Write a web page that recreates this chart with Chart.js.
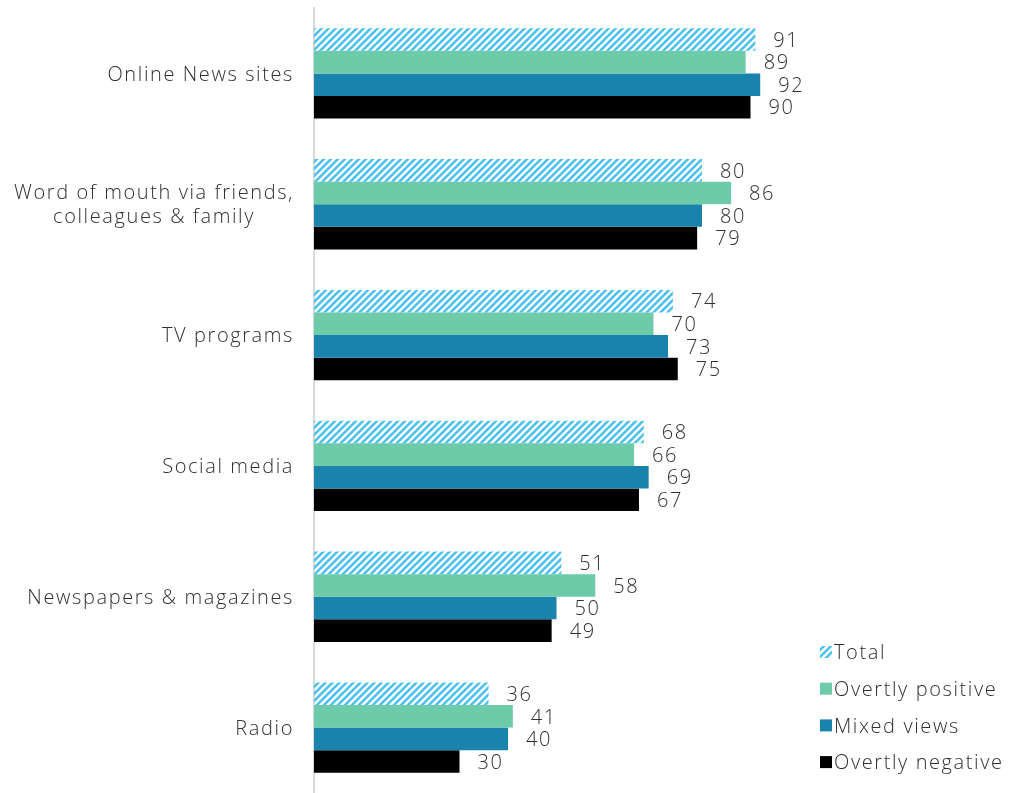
<!DOCTYPE html>
<html>
<head>
<meta charset="utf-8">
<script src="https://cdn.jsdelivr.net/npm/chart.js@4"></script>
<style>
  html, body { margin: 0; padding: 0; background: #fff; }
  #wrap { width: 1014px; height: 793px; }
</style>
</head>
<body>
<div id="wrap"><canvas id="sourcesChart" width="1014" height="793"></canvas></div>
<script>
// Sources used, % by attitude group
const categories = [
    ['Online News sites'],
    ['Word of mouth via friends,', 'colleagues & family'],
    ['TV programs'],
    ['Social media'],
    ['Newspapers & magazines'],
    ['Radio']
];
const seriesNames = ['Total', 'Overtly positive', 'Mixed views', 'Overtly negative'];
const totalValues    = [91, 80, 74, 68, 51, 36];
const positiveValues = [89, 86, 70, 66, 58, 41];
const mixedValues    = [92, 80, 73, 69, 50, 40];
const negativeValues = [90, 79, 75, 67, 49, 30];

const FONT = '300 20px "Open Sans", "DejaVu Sans", sans-serif';
const SPACING = '1.6px';
const TEXT_COLOR = '#303030';
const TEXT_NUDGE = 1.5;

// diagonal hatch for the Total bars
function makeHatch() {
    const c = document.createElement('canvas');
    c.width = 7; c.height = 7;
    const g = c.getContext('2d');
    g.strokeStyle = '#4dc1ec';
    g.lineWidth = 2.6;
    g.beginPath();
    g.moveTo(0, 7); g.lineTo(7, 0);
    g.moveTo(-2, 2); g.lineTo(2, -2);
    g.moveTo(5, 9); g.lineTo(9, 5);
    g.stroke();
    return g.createPattern(c, 'repeat');
}
const hatch = makeHatch();
const colors = [hatch, '#6dcba9', '#1983ab', '#000000'];

function setText(ctx, align) {
    ctx.font = FONT;
    ctx.letterSpacing = SPACING;
    ctx.fillStyle = TEXT_COLOR;
    ctx.textAlign = align;
    ctx.textBaseline = 'middle';
}

// value labels at bar ends
const valueLabels = {
    id: 'valueLabels',
    afterDatasetsDraw(chart) {
        const ctx = chart.ctx;
        ctx.save();
        setText(ctx, 'left');
        chart.data.datasets.forEach((ds, i) => {
            chart.getDatasetMeta(i).data.forEach((bar, j) => {
                ctx.fillText(ds.data[j], bar.x + 18, bar.y + TEXT_NUDGE);
            });
        });
        ctx.restore();
    }
};

// category labels: right aligned, wrapped lines centred within their block
const categoryLabels = {
    id: 'categoryLabels',
    afterDraw(chart) {
        const ctx = chart.ctx;
        const y = chart.scales.y;
        const right = chart.chartArea.left - 20;
        ctx.save();
        setText(ctx, 'center');
        categories.forEach((lines, i) => {
            const cy = y.getPixelForValue(i) + TEXT_NUDGE;
            const w = Math.max(...lines.map(l => ctx.measureText(l).width));
            const cx = right - w / 2;
            const lh = 24;
            lines.forEach((l, k) => {
                ctx.fillText(l, cx, cy + (k - (lines.length - 1) / 2) * lh);
            });
        });
        ctx.restore();
    }
};

// legend in the lower right corner
const cornerLegend = {
    id: 'cornerLegend',
    afterDraw(chart) {
        const ctx = chart.ctx;
        ctx.save();
        setText(ctx, 'left');
        chart.data.datasets.forEach((ds, i) => {
            const cy = 652 + i * 36.7;
            ctx.fillStyle = ds.backgroundColor;
            ctx.fillRect(820, cy - 6, 12, 12);
            ctx.fillStyle = TEXT_COLOR;
            ctx.fillText(ds.label, 834, cy + TEXT_NUDGE);
        });
        ctx.restore();
    }
};

const datasetValues = [totalValues, positiveValues, mixedValues, negativeValues];

new Chart(document.getElementById('sourcesChart'), {
    type: 'bar',
    data: {
        labels: categories.map(l => l.join(' ')),
        datasets: seriesNames.map((name, i) => ({
            label: name,
            data: datasetValues[i],
            backgroundColor: colors[i],
            borderWidth: 0,
            barPercentage: 1,
            categoryPercentage: 0.69
        }))
    },
    options: {
        indexAxis: 'y',
        responsive: false,
        animation: false,
        layout: { padding: { left: 306, right: 215, top: 8, bottom: 0 } },
        plugins: {
            legend: { display: false },
            tooltip: { enabled: false }
        },
        scales: {
            x: { min: 0, max: 100, display: false },
            y: {
                ticks: { display: false },
                grid: { display: false },
                border: { color: '#d9d9d9', width: 2 }
            }
        }
    },
    plugins: [valueLabels, categoryLabels, cornerLegend]
});
</script>
</body>
</html>
